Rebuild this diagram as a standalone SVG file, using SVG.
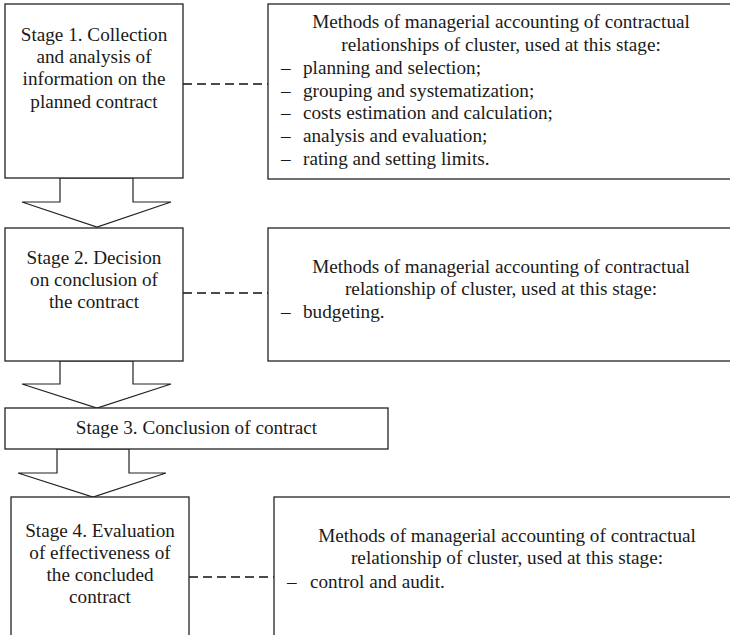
<svg xmlns="http://www.w3.org/2000/svg" width="730" height="635" viewBox="0 0 730 635">
<style>
.box{fill:#fff;stroke:#222;stroke-width:1.3}
.arr{fill:#fff;stroke:#222;stroke-width:1.2;stroke-linejoin:miter}
.dash{stroke:#111;stroke-width:1.3;stroke-dasharray:9,5;fill:none}
text{font-family:"Liberation Serif","Times New Roman",serif;font-size:19.2px;fill:#1a1a1a}
.c{text-anchor:middle}
</style>
<rect width="730" height="635" fill="#fff"/>
<g id="connectors">
<line class="dash" x1="183" y1="84" x2="268" y2="84"/>
<line class="dash" x1="183" y1="293" x2="268" y2="293"/>
<line class="dash" x1="189" y1="577" x2="274" y2="577"/>
<polygon class="arr" points="60,178 133,178 133,202 171,202 97,227 22,202 60,202"/>
<polygon class="arr" points="60,361 133,361 133,384 171,384 97,408 22,384 60,384"/>
<polygon class="arr" points="57,449 129,449 129,473 166,473 93,497 18,473 57,473"/>
</g>
<g id="stage1">
<rect class="box" x="5" y="4" width="178" height="174"/>
<text class="c" x="94" y="41">Stage 1. Collection</text>
<text class="c" x="94" y="63">and analysis of</text>
<text class="c" x="94" y="85">information on the</text>
<text class="c" x="94" y="108">planned contract</text>
</g>
<g id="methods1">
<rect class="box" x="268" y="4" width="470" height="175"/>
<text class="c" x="501" y="28">Methods of managerial accounting of contractual</text>
<text class="c" x="501" y="51">relationships of cluster, used at this stage:</text>
<text x="281" y="74">–</text><text x="303" y="74">planning and selection;</text>
<text x="281" y="97">–</text><text x="303" y="97">grouping and systematization;</text>
<text x="281" y="119">–</text><text x="303" y="119">costs estimation and calculation;</text>
<text x="281" y="142">–</text><text x="303" y="142">analysis and evaluation;</text>
<text x="281" y="165">–</text><text x="303" y="165">rating and setting limits.</text>
</g>
<g id="stage2">
<rect class="box" x="5" y="228" width="178" height="133"/>
<text class="c" x="94" y="264">Stage 2. Decision</text>
<text class="c" x="94" y="286">on conclusion of</text>
<text class="c" x="94" y="308">the contract</text>
</g>
<g id="methods2">
<rect class="box" x="268" y="228" width="470" height="133"/>
<text class="c" x="501" y="273">Methods of managerial accounting of contractual</text>
<text class="c" x="501" y="295">relationship of cluster, used at this stage:</text>
<text x="281" y="318">–</text><text x="303" y="318">budgeting.</text>
</g>
<g id="stage3">
<rect class="box" x="5" y="408" width="383" height="41"/>
<text class="c" x="196.5" y="434">Stage 3. Conclusion of contract</text>
</g>
<g id="stage4">
<rect class="box" x="11" y="497" width="178" height="145"/>
<text class="c" x="100" y="537">Stage 4. Evaluation</text>
<text class="c" x="100" y="559">of effectiveness of</text>
<text class="c" x="100" y="581">the concluded</text>
<text class="c" x="100" y="603">contract</text>
</g>
<g id="methods4">
<rect class="box" x="274" y="497" width="470" height="145"/>
<text class="c" x="507" y="542">Methods of managerial accounting of contractual</text>
<text class="c" x="507" y="564">relationship of cluster, used at this stage:</text>
<text x="287" y="588">–</text><text x="310" y="588">control and audit.</text>
</g>
</svg>
